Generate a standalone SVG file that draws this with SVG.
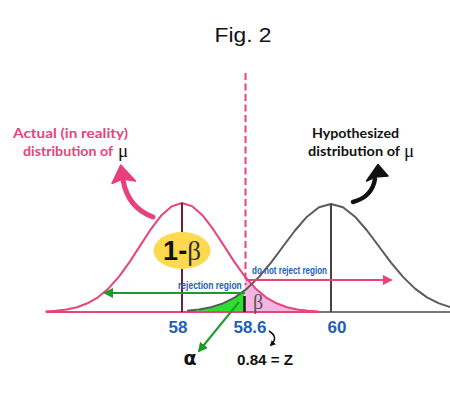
<svg xmlns="http://www.w3.org/2000/svg" width="450" height="399" viewBox="0 0 450 399">
  <style>
    .lbl { font-family: "Lato", "Liberation Sans", sans-serif; font-weight: 700; font-size: 13px; }
    .pinklbl { fill: #e8437c; }
    .mu { font-family: "Liberation Serif", serif; font-size: 19px; fill: #111; }
    .num { font-family: "Liberation Sans", Arial, sans-serif; font-weight: 700; font-size: 17px; fill: #2160b8; text-anchor: middle; }
    .region { font-family: "Liberation Sans", Arial, sans-serif; font-weight: 700; font-size: 11.5px; fill: #2160b8; }
    .red { fill: none; stroke: #e8437c; stroke-width: 2; stroke-linejoin: round; }
    .grey { fill: none; stroke: #5a5a5a; stroke-width: 2; stroke-linejoin: round; }
  </style>
  <defs>
    <marker id="gh" viewBox="0 0 10 10" refX="8" refY="5" markerWidth="5" markerHeight="5" orient="auto-start-reverse">
      <path d="M0,0 L10,5 L0,10 Z" fill="#1e9a2a"/>
    </marker>
    <marker id="ph" viewBox="0 0 10 10" refX="8" refY="5" markerWidth="5" markerHeight="5" orient="auto-start-reverse">
      <path d="M0,0 L10,5 L0,10 Z" fill="#e8437c"/>
    </marker>
    <marker id="bh" viewBox="0 0 10 10" refX="7" refY="5" markerWidth="4" markerHeight="4" orient="auto-start-reverse">
      <path d="M0,0 L10,5 L0,10 Z" fill="#111"/>
    </marker>
  </defs>
  <rect width="450" height="399" fill="#fff"/>

  <g id="title">
    <text x="243" y="42" font-family="Liberation Sans, Arial, sans-serif" font-size="21" text-anchor="middle" fill="#111" textLength="57" lengthAdjust="spacingAndGlyphs">Fig. 2</text>
  </g>

  <g id="areas">
    <path d="M245,312 L245,276.6 L255.5,288.4 L266,297.3 L276.5,303.3 L287,307.2 L297.5,309.5 L308,310.8 L318.5,311.4 L318.5,312 Z" fill="#f5b5e2"/>
    <path d="M199,312 L199,309.5 L211,307.3 L223,303.4 L235,297.4 L244,290.3 L244,312 Z" fill="#2ee02e"/>
  </g>

  <g id="baseline">
    <line x1="320" y1="312" x2="450" y2="312" stroke="#777" stroke-width="2"/>
    <line x1="46" y1="312" x2="320" y2="312" stroke="#e8437c" stroke-width="2"/>
  </g>

  <g id="actual-distribution">
    <path class="red" d="M45.5,311.4 L56,310.8 L66.5,309.5 L77,307.2 L87.5,303.3 L98,297.3 L108.5,288.4 L119,276.6 L129.5,262.1 L140,245.9 L150.5,229.7 L161,215.8 L171.5,206.4 L182,203 L192.5,206.4 L203,215.8 L213.5,229.7 L224,245.9 L234.5,262.1 L245,276.6 L255.5,288.4 L266,297.3 L276.5,303.3 L287,307.2 L297.5,309.5 L308,310.8 L318.5,311.4"/>
    <line x1="182" y1="203" x2="182" y2="312" stroke="#6b1f3c" stroke-width="2"/>
  </g>

  <g id="hypothesized-distribution">
    <path class="grey" d="M187,310.8 L199,309.5 L211,307.3 L223,303.4 L235,297.4 L247,288.6 L259,276.9 L271,262.6 L283,246.5 L295,230.5 L307,216.7 L319,207.3 L331,204 L343,207.3 L355,216.7 L367,230.5 L379,246.5 L391,262.6 L403,276.9 L415,288.6 L427,297.4 L439,303.4 L451,307.3"/>
    <line x1="331" y1="204" x2="331" y2="312" stroke="#444" stroke-width="2"/>
  </g>

  <g id="critical-line">
    <line x1="245.5" y1="73" x2="245.5" y2="285" stroke="#e8437c" stroke-width="2" stroke-dasharray="7,3.5"/>
    <line x1="244.5" y1="296" x2="244.5" y2="312" stroke="#222" stroke-width="2.5"/>
  </g>

  <g id="one-minus-beta">
    <ellipse cx="182" cy="250.5" rx="28.5" ry="18.5" fill="#fcd94f"/>
    <text x="182" y="260" font-family="Liberation Sans, Arial, sans-serif" font-size="27" text-anchor="middle" fill="#111"><tspan font-weight="700">1-</tspan><tspan font-family="Liberation Serif, serif" fill="#333">β</tspan></text>
  </g>

  <g id="beta">
    <text x="253" y="309" font-family="Liberation Serif, serif" font-size="20" fill="#555">β</text>
  </g>

  <g id="labels">
    <text class="lbl pinklbl" x="13" y="138" textLength="115" lengthAdjust="spacingAndGlyphs">Actual (in reality)</text>
    <text class="lbl pinklbl" x="23" y="156" textLength="90" lengthAdjust="spacingAndGlyphs">distribution of</text>
    <text class="mu" x="118" y="157">μ</text>
    <text class="lbl" x="312" y="138" fill="#111" textLength="87" lengthAdjust="spacingAndGlyphs">Hypothesized</text>
    <text class="lbl" x="308" y="156" fill="#111" textLength="92" lengthAdjust="spacingAndGlyphs">distribution of</text>
    <text class="mu" x="404" y="157">μ</text>
    <text class="region" transform="translate(178,289) scale(0.74,1)">rejection region</text>
    <text class="region" transform="translate(252,274) scale(0.70,1)">do not reject region</text>
    <text class="num" x="178" y="333">58</text>
    <text class="num" x="250" y="333">58.6</text>
    <text class="num" x="337" y="333">60</text>
    <text x="190" y="365" font-family="DejaVu Sans, sans-serif" font-weight="700" font-size="19" text-anchor="middle" fill="#111">α</text>
    <text x="237" y="365" font-family="Liberation Sans, Arial, sans-serif" font-weight="700" font-size="15" fill="#111" textLength="56" lengthAdjust="spacingAndGlyphs">0.84 = Z</text>
  </g>

  <g id="connectors">
    <line x1="245" y1="293" x2="105" y2="293" stroke="#1e9a2a" stroke-width="2" marker-end="url(#gh)"/>
    <line x1="246" y1="280" x2="391" y2="280" stroke="#e8437c" stroke-width="2" marker-end="url(#ph)"/>
    <line x1="239" y1="302" x2="199" y2="351" stroke="#1e9a2a" stroke-width="2" marker-end="url(#gh)"/>
    <path d="M269,331 Q279,337 271,345" fill="none" stroke="#111" stroke-width="1.5" marker-end="url(#bh)"/>
    <path d="M153,217 Q128,208 123,180" fill="none" stroke="#e8407a" stroke-width="5" stroke-linecap="round"/>
    <path d="M120.7,165 L112,183.5 L122.5,179 L135.5,181 Z" fill="#e8407a" stroke="#e8407a" stroke-width="1.5" stroke-linejoin="round"/>
    <path d="M353,202 Q372,197 375,179" fill="none" stroke="#111" stroke-width="4.5" stroke-linecap="round"/>
    <path d="M378,164.5 L366.5,181 L375.5,177 L388,176 Z" fill="#111" stroke="#111" stroke-width="1.5" stroke-linejoin="round"/>
  </g>
</svg>
